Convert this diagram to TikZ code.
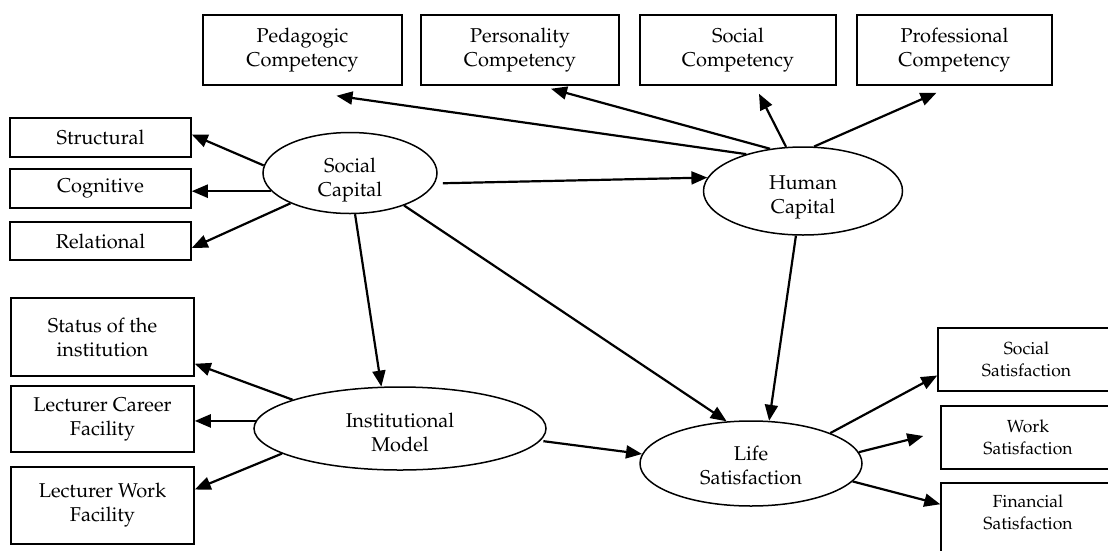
\documentclass[tikz,border=0pt]{standalone}
\usepackage[T1]{fontenc}
\usepackage{mathpazo}
\usetikzlibrary{shapes.geometric,arrows.meta}
\newcommand{\lattext}[2][6pt]{\raisebox{-#1}[\height][\depth]{\begin{tabular}{@{}c@{}}#2\end{tabular}}}
\tikzset{
  box/.style={draw, line width=1.5pt, rectangle, align=center, inner sep=0pt, font=\fontsize{20}{24}\selectfont},
  rbox/.style={box, font=\fontsize{17.5}{22}\selectfont},
  lat/.style={draw, line width=1.5pt, ellipse, inner sep=0pt, font=\fontsize{20}{24}\selectfont},
  arr/.style={line width=2.2pt, -{Triangle[length=16pt,width=13pt]}},
}
\begin{document}
\begin{tikzpicture}[x=1pt,y=-1pt]
\clip (0,0) rectangle (1108,550);
\fill[white] (0,0) rectangle (1108,550);
% top boxes
\node[box, minimum width=199pt, minimum height=70pt] (ped) at (302.5,50) {Pedagogic\\Competency};
\node[box, minimum width=198pt, minimum height=70pt] (per) at (520,50) {Personality\\Competency};
\node[box, minimum width=196pt, minimum height=70pt] (soc) at (738,50) {Social\\Competency};
\node[box, minimum width=195pt, minimum height=70pt] (pro) at (954.5,50) {Professional\\Competency};
% left upper boxes
\node[box, minimum width=181pt, minimum height=39pt] (str) at (100.5,137.5) {Structural};
\node[box, minimum width=181pt, minimum height=39pt] (cog) at (100.5,188.5) {Cognitive};
\node[box, minimum width=181pt, minimum height=38pt] (rel) at (100.5,241) {Relational};
% latent variables
\node[lat, minimum width=174pt, minimum height=81pt] (sc) at (350,173) {\lattext[7pt]{Social\\Capital}};
\node[lat, minimum width=199pt, minimum height=88pt] (hc) at (803,191) {\lattext{Human\\Capital}};
\node[lat, minimum width=292pt, minimum height=83pt] (im) at (400,428.5) {\lattext{Institutional\\Model}};
\node[lat, minimum width=222pt, minimum height=85pt] (ls) at (751,463.5) {\lattext[4pt]{Life\\Satisfaction}};
% left lower boxes
\node[box, minimum width=183pt, minimum height=78pt] (sta) at (102.5,337) {Status of the\\institution};
\node[box, minimum width=183pt, minimum height=66pt] (car) at (102.5,419) {Lecturer Career\\Facility};
\node[box, minimum width=183pt, minimum height=77pt] (wrk) at (102.5,505.5) {Lecturer Work\\Facility};
% right boxes
\node[rbox, minimum width=177pt, minimum height=63pt] (ssat) at (1026.5,359.5) {Social\\Satisfaction};
\node[rbox, minimum width=174pt, minimum height=63pt] (wsat) at (1028,437.5) {Work\\Satisfaction};
\node[rbox, minimum width=174pt, minimum height=87pt] (fsat) at (1028,526.5) {Financial\\Satisfaction\\\strut};
% arrows from Social Capital
\draw[arr] (sc.175) -- ([yshift=3pt]str.east);
\draw[arr] (sc.193) -- (sc.193 -| cog.east);
\draw[arr] (sc.207) -- ([yshift=-7pt]rel.east);
\draw[arr, shorten <=8pt] (sc.-7) -- (hc.172);
\draw[arr] (sc.277) -- (im.114);
\draw[arr] (sc.-31) -- (ls.120);
% arrows from Human Capital
\draw[arr] (hc.147) -- ([xshift=34pt,yshift=-10pt]ped.south);
\draw[arr] (hc.128) -- ([xshift=31pt,yshift=-3pt]per.south);
\draw[arr] (hc.111) -- ([xshift=21pt,yshift=-8pt]soc.south);
\draw[arr] (hc.76) -- ([xshift=-18pt,yshift=-7pt]pro.south);
\draw[arr] (hc.261) -- (ls.67);
% arrows from Institutional Model
\draw[arr] (im.165) -- ([yshift=13pt]sta.south east);
\draw[arr] (im.177) -- (im.177 -| car.east);
\draw[arr] (im.192) -- ([yshift=16pt]wrk.east);
\draw[arr, shorten <=3pt] (im.-5) -- (ls.175);
% arrows from Life Satisfaction
\draw[arr] (ls.21) -- ([yshift=-16pt]ssat.west);
\draw[arr] (ls.6) -- ([xshift=-17pt,yshift=1.5pt]wsat.west);
\draw[arr] (ls.-10) -- ([yshift=-22pt]fsat.north west);
\end{tikzpicture}
\end{document}
